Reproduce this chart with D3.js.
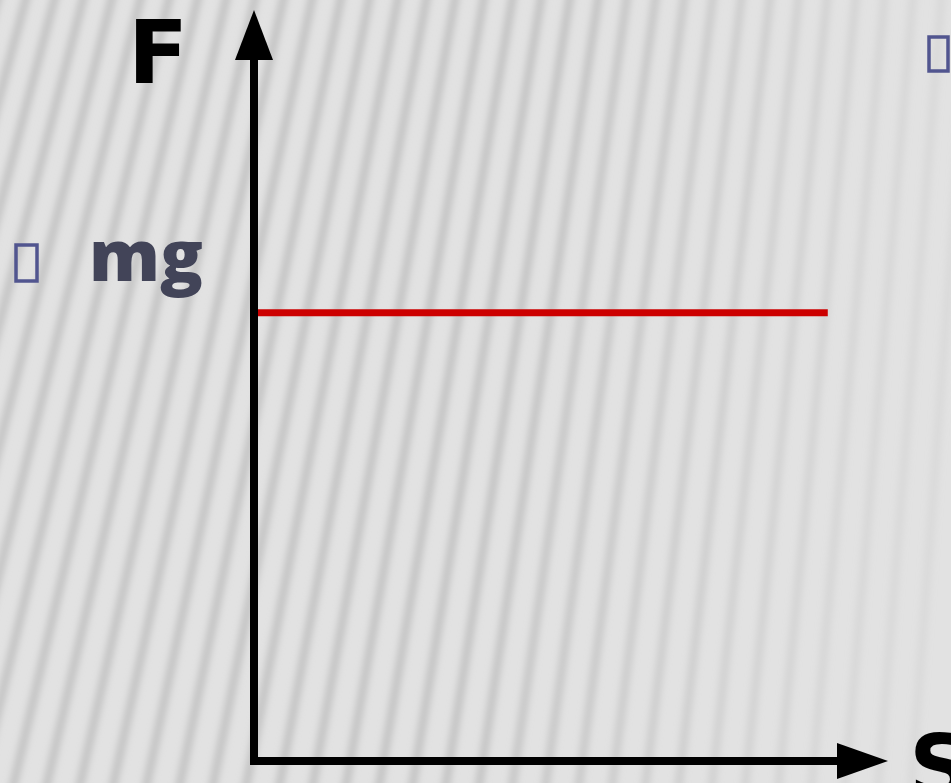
<!DOCTYPE html>
<html>
<head>
<meta charset="utf-8">
<script src="https://cdn.jsdelivr.net/npm/d3@7"></script>
<style>
  html, body { margin: 0; padding: 0; background: #e1e1e1; overflow: hidden; }
  svg { display: block; }
</style>
</head>
<body>
<div id="chart"></div>
<script>
// ---- data ----
const sDomain = [0, 10];          // displacement axis
const fDomain = [0, 10];          // force axis
const forceLine = [ { s: 0, f: 6 }, { s: 9.05, f: 6 } ];   // F = mg, constant
const axisLabels = ["F", "S"];
const levelLabel = "mg";

const W = 951, H = 783;

const svg = d3.select("#chart").append("svg")
    .attr("width", W)
    .attr("height", H);

// scales
const x = d3.scaleLinear().domain(sDomain).range([254, 888]);
const y = d3.scaleLinear().domain(fDomain).range([761, 14]);

// ---- background: soft fanned stripes ----
const defs = svg.append("defs");
defs.append("filter").attr("id", "blur")
    .attr("x", "-20%").attr("y", "-20%").attr("width", "140%").attr("height", "140%")
    .append("feGaussianBlur").attr("stdDeviation", 3.6);

svg.append("rect").attr("width", W).attr("height", H).attr("fill", "#e2e2e2");

const vp = [1330, 4700]; // vanishing point of the stripes (far below right)
const bg = svg.append("g").attr("filter", "url(#blur)");
for (let xt = -140; xt < W + 40; xt += 28.5) {
    const k = (vp[0] - xt) / vp[1];
    const fade = Math.max(0, Math.min(1, 1 - (xt - 580) / 380));
    bg.append("line")
        .attr("x1", xt).attr("y1", -20)
        .attr("x2", xt - k * (H + 20)).attr("y2", H + 20)
        .attr("stroke", "#c0c0c0")
        .attr("stroke-width", 8)
        .attr("opacity", 0.25 + 0.7 * fade);
}

// ---- the level line ----
svg.append("path")
    .datum(forceLine)
    .attr("d", d3.line().x(d => x(d.s)).y(d => y(d.f)))
    .attr("stroke", "#cc0000")
    .attr("stroke-width", 7)
    .attr("fill", "none");

// ---- axes with arrowheads ----
const ax = svg.append("g");
ax.append("path")
    .attr("d", `M${x(0)},${y(0) + 4} L${x(0)},${y(fDomain[1]) + 40}`)
    .attr("stroke", "#000").attr("stroke-width", 8).attr("fill", "none");
ax.append("path")
    .attr("d", `M${x(0) - 4},${y(0)} L${x(sDomain[1]) - 40},${y(0)}`)
    .attr("stroke", "#000").attr("stroke-width", 8).attr("fill", "none");
// up arrow
ax.append("path")
    .attr("d", `M${x(0)},10 L${x(0) - 19},60 L${x(0) + 19},60 Z`)
    .attr("fill", "#000");
// right arrow
ax.append("path")
    .attr("d", `M${x(sDomain[1])},${y(0)} L${x(sDomain[1]) - 51},${y(0) - 18} L${x(sDomain[1]) - 51},${y(0) + 18} Z`)
    .attr("fill", "#000");

// ---- labels ----
svg.append("text")
    .attr("x", 128).attr("y", 83)
    .attr("font-family", "DejaVu Sans")
    .attr("font-weight", "bold")
    .attr("font-size", 88)
    .attr("fill", "#000")
    .text(axisLabels[0]);

svg.append("text")
    .attr("x", 909).attr("y", 797)
    .attr("font-family", "DejaVu Sans")
    .attr("font-weight", "bold")
    .attr("font-size", 88)
    .attr("fill", "#000")
    .text(axisLabels[1]);

svg.append("text")
    .attr("x", 89).attr("y", 281)
    .attr("font-family", "Open Sans")
    .attr("font-weight", 800)
    .attr("font-size", 71)
    .attr("fill", "#424458")
    .text(levelLabel);

// bullet boxes (missing-glyph markers in the slide)
svg.append("rect")
    .attr("x", 16).attr("y", 245).attr("width", 21).attr("height", 36)
    .attr("fill", "none").attr("stroke", "#51558f").attr("stroke-width", 3.5);
svg.append("rect")
    .attr("x", 929).attr("y", 37).attr("width", 19).attr("height", 34)
    .attr("fill", "none").attr("stroke", "#51558f").attr("stroke-width", 3.5);
</script>
</body>
</html>
